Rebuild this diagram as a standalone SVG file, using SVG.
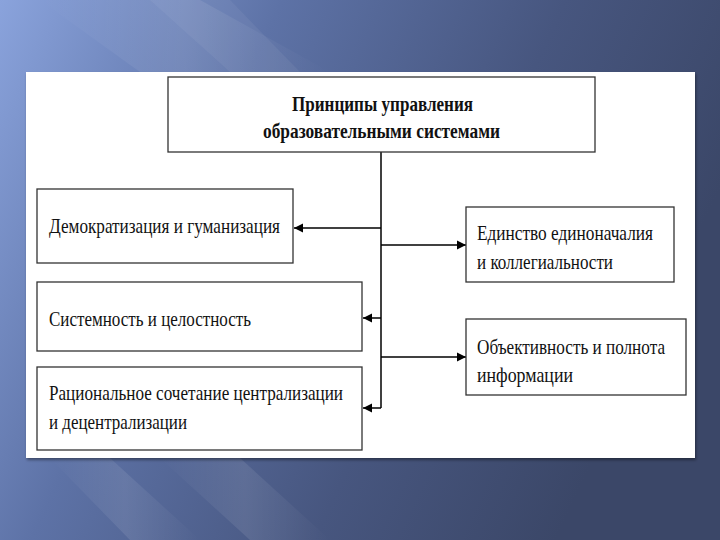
<svg xmlns="http://www.w3.org/2000/svg" width="720" height="540" viewBox="0 0 720 540">
<defs>
<linearGradient id="bg" x1="0" y1="0" x2="1" y2="0.35">
<stop offset="0" stop-color="#8aa3dc"/>
<stop offset="0.35" stop-color="#5d72a6"/>
<stop offset="0.7" stop-color="#47567f"/>
<stop offset="1" stop-color="#3b4768"/>
</linearGradient>
<linearGradient id="band" x1="0" y1="0" x2="1" y2="0">
<stop offset="0" stop-color="#fff" stop-opacity="0"/>
<stop offset="0.5" stop-color="#fff" stop-opacity="0.09"/>
<stop offset="1" stop-color="#fff" stop-opacity="0"/>
</linearGradient>
<marker id="ah" markerWidth="10" markerHeight="10" refX="9" refY="5" orient="auto" markerUnits="userSpaceOnUse">
<path d="M0,0.5 L9,5 L0,9.5 Z" fill="#000"/>
</marker>
<filter id="sh" x="-5%" y="-5%" width="110%" height="110%">
<feDropShadow dx="1" dy="2" stdDeviation="1.5" flood-color="#000" flood-opacity="0.4"/>
</filter>
</defs>
<style>
.box{fill:#fff;stroke:#333;stroke-width:1.3}
.t{font-family:"Liberation Serif","Times New Roman",serif;font-size:21px;fill:#111}
.tb{font-family:"Liberation Serif","Times New Roman",serif;font-size:21px;font-weight:bold;fill:#111}
.ln{stroke:#000;stroke-width:1.5;fill:none}
</style>
<rect width="720" height="540" fill="url(#bg)"/>
<polygon points="40,0 200,0 330,72 140,72" fill="url(#band)"/>
<polygon points="150,0 230,0 300,72 230,72" fill="#fff" fill-opacity="0.05"/>
<polygon points="50,458 110,458 200,540 130,540" fill="url(#band)"/>
<polygon points="160,458 240,458 330,540 250,540" fill="url(#band)"/>
<rect x="26" y="72" width="669" height="386" fill="#fff" filter="url(#sh)"/>

<g id="connectors">
<line class="ln" x1="381" y1="152" x2="381" y2="408"/>
<line class="ln" x1="381" y1="228" x2="294" y2="228" marker-end="url(#ah)"/>
<line class="ln" x1="381" y1="245" x2="466" y2="245" marker-end="url(#ah)"/>
<line class="ln" x1="381" y1="318" x2="363" y2="318" marker-end="url(#ah)"/>
<line class="ln" x1="381" y1="357" x2="466" y2="357" marker-end="url(#ah)"/>
<line class="ln" x1="381" y1="408" x2="363" y2="408" marker-end="url(#ah)"/>
</g>

<g id="root">
<rect class="box" x="168" y="77" width="427" height="75"/>
<text class="tb" x="292" y="111" textLength="181" lengthAdjust="spacingAndGlyphs">Принципы управления</text>
<text class="tb" x="263" y="138" textLength="237" lengthAdjust="spacingAndGlyphs">образовательными системами</text>
</g>

<g id="n1">
<rect class="box" x="37" y="189" width="256" height="74"/>
<text class="t" x="49" y="233" textLength="231" lengthAdjust="spacingAndGlyphs">Демократизация и гуманизация</text>
</g>

<g id="n2">
<rect class="box" x="37" y="282" width="325" height="69"/>
<text class="t" x="49" y="326" textLength="202" lengthAdjust="spacingAndGlyphs">Системность и целостность</text>
</g>

<g id="n3">
<rect class="box" x="37" y="367" width="325" height="83"/>
<text class="t" x="49" y="400" textLength="294" lengthAdjust="spacingAndGlyphs">Рациональное сочетание централизации</text>
<text class="t" x="49" y="429" textLength="138" lengthAdjust="spacingAndGlyphs">и децентрализации</text>
</g>

<g id="n4">
<rect class="box" x="466" y="207" width="208" height="75"/>
<text class="t" x="477" y="240" textLength="176" lengthAdjust="spacingAndGlyphs">Единство единоначалия</text>
<text class="t" x="477" y="269" textLength="136" lengthAdjust="spacingAndGlyphs">и коллегиальности</text>
</g>

<g id="n5">
<rect class="box" x="466" y="319" width="220" height="76"/>
<text class="t" x="477" y="354" textLength="188" lengthAdjust="spacingAndGlyphs">Объективность и полнота</text>
<text class="t" x="477" y="382" textLength="96" lengthAdjust="spacingAndGlyphs">информации</text>
</g>
</svg>
